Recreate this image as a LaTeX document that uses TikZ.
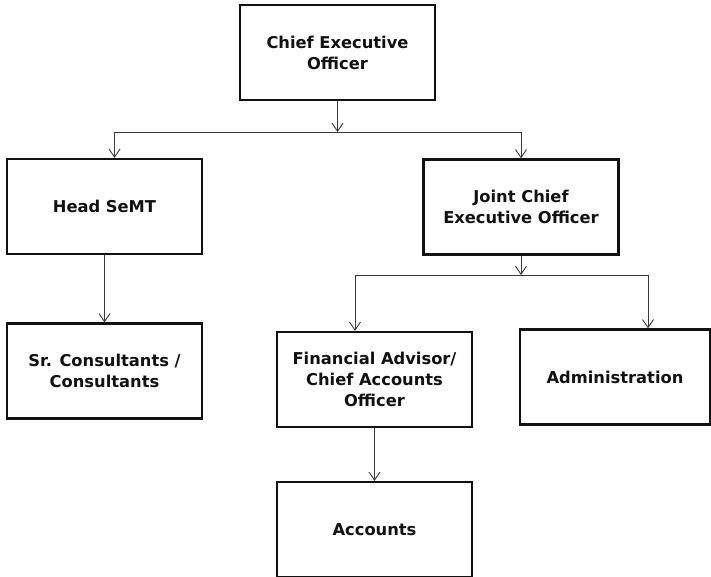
\documentclass[tikz,border=0pt]{standalone}
\usepackage{fontspec}
\setmainfont{DejaVu Sans}
\usetikzlibrary{arrows.meta, positioning, calc}
\definecolor{inkblk}{HTML}{111111}
\definecolor{wiregray}{HTML}{3A3A3A}

\begin{document}
\begin{tikzpicture}[
  x=1pt, y=-1pt,
  >={Straight Barb[length=8pt, width=11pt]},
  orgbox/.style={
    draw=inkblk, line width=2.3pt, fill=white,
    minimum width=195pt, minimum height=95pt,
    font=\fontsize{16.3}{21}\selectfont\bfseries, text=inkblk,
    align=center, inner sep=4pt
  },
  arr/.style={->, line width=0.9pt, wiregray},
]

% Background
\useasboundingbox (0,0) rectangle (711,577);
\fill[white] (0,0) rectangle (711,577);

% =============================================
% Top: CEO
% =============================================

\node[orgbox] (ceo) at (337.5,52.5)
  {Chief Executive\\Officer};

% =============================================
% Second row: Head SeMT -- Joint CEO
% =============================================

\node[orgbox] (head) at (104.5,206.5)
  {Head SeMT};

\node[orgbox] (jceo) at (521,207)
  {Joint Chief\\Executive Officer};

% =============================================
% Third row
% =============================================

\node[orgbox] (consult) at (104.5,371)
  {Sr. Consultants /\\Consultants};

\node[orgbox] (finadv) at (374.5,379.5)
  {Financial Advisor/\\Chief Accounts\\Officer};

\node[orgbox, minimum width=190pt] (admin) at (615,377)
  {Administration};

% =============================================
% Bottom: Accounts
% =============================================

\node[orgbox] (accounts) at (374.5,529.5)
  {Accounts};

% =============================================
% Connectors
% =============================================

\coordinate (bustop) at (337.5,132);
\coordinate (busmid) at (521,275);

% CEO -> bus -> Head SeMT / Joint CEO
\draw[arr] (ceo.south) -- (bustop);
\draw[arr] (bustop) -| ([xshift=10pt]head.north);
\draw[arr] (bustop) -| (jceo.north);

% Head SeMT -> Consultants
\draw[arr] (head.south) -- (consult.north);

% Joint CEO -> bus -> Financial Advisor / Administration
\draw[arr] (jceo.south) -- (busmid);
\draw[arr] (busmid) -| ([xshift=-19.5pt]finadv.north);
\draw[arr] (busmid) -| ([xshift=33pt]admin.north);

% Financial Advisor -> Accounts
\draw[arr] (finadv.south) -- (accounts.north);

\end{tikzpicture}
\end{document}
